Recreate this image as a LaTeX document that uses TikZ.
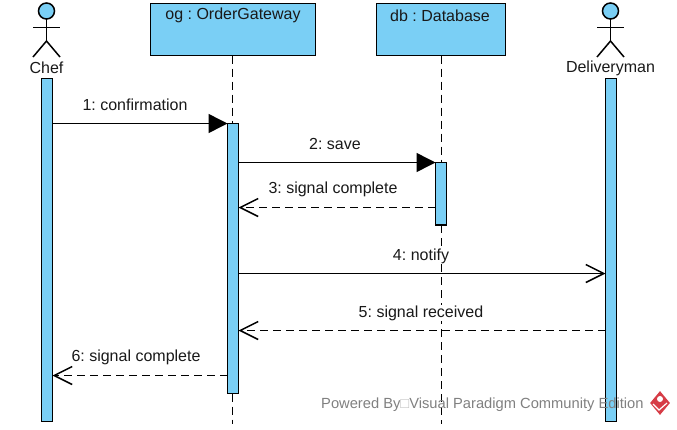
\documentclass[tikz,border=0pt]{standalone}
\usepackage{fontspec}
\setmainfont{Liberation Sans}
\frenchspacing
\usetikzlibrary{arrows.meta,shapes.geometric}
\definecolor{umlblue}{RGB}{122,207,245}
\definecolor{vpgray}{RGB}{128,128,128}
\definecolor{vpred}{RGB}{214,60,70}
\tikzset{
    lbl/.style = {font=\fontsize{16}{18}\selectfont,inner sep=1pt,text=black!90},
    msg/.style = {lbl,fill=white},
    objbox/.style = {draw,fill=umlblue,line width=1.5pt,anchor=north west,inner sep=0pt,outer sep=0pt},
    bar/.style = {draw,fill=umlblue,line width=1.5pt,minimum width=11pt,anchor=north,inner sep=0pt,outer sep=0pt},
    life/.style = {line width=1.5pt,dash pattern=on 8pt off 5pt},
    call/.style = {line width=1.5pt,-{Triangle[length=19pt,width=19pt]}},
    ret/.style = {line width=1.5pt,dash pattern=on 8pt off 5pt,-{Straight Barb[length=18pt,width=18pt,line width=1.5pt]}},
    send/.style = {line width=1.5pt,-{Straight Barb[length=18pt,width=18pt,line width=1.5pt]}},
}
% x and y in pixels of the sheet
\newcommand{\stickman}[2]{
    \draw[fill=umlblue,line width=1.5pt] (#1,11) circle (8pt);
    \draw[line width=1.5pt] (#1,19) -- (#1,41);
    \draw[line width=1.5pt] (#1-13.5,27.5) -- (#1+13.5,27.5);
    \draw[line width=1.5pt] (#1-13.5,57) -- (#1,41) -- (#1+13.5,57);
    \node[lbl] (#2) at (#1,68) {#2};
}
\begin{document}
\begin{tikzpicture}[x=1pt,y=-1pt]
    \useasboundingbox (0,0) rectangle (677,429);

    % actors
    \stickman{46.5}{Chef}
    \stickman{610.5}{Deliveryman}

    % objects
    \node[objbox,minimum width=165pt,minimum height=52pt] (og) at (150.5,3.5) {};
    \node[lbl] (oglabel) at (233,15.5) {og : OrderGateway};
    \node[objbox,minimum width=129pt,minimum height=52pt] (db) at (376.5,3.5) {};
    \node[lbl] (dblabel) at (440,15.5) {db : Database};

    % activation bars
    \node[bar,minimum height=343pt] (chefbar) at (47,78.5) {};
    \node[bar,minimum height=343pt] (delbar) at (611,78.5) {};
    \node[bar,minimum height=270pt] (ogbar) at (233,123.5) {};
    \node[bar,minimum height=62.5pt] (dbbar) at (441,162.5) {};

    % lifelines
    \coordinate (ogtop) at (232.5,55.5);
    \coordinate (ogmid) at (232.5,123.5);
    \coordinate (oglow) at (232.5,393.5);
    \coordinate (ogend) at (232.5,424);
    \coordinate (dbtop) at (441.5,55.5);
    \coordinate (dbmid) at (441.5,162.5);
    \coordinate (dblow) at (441.5,225);
    \coordinate (dbend) at (441.5,424);
    \draw[life] (ogtop) -- (ogmid);
    \draw[life] (oglow) -- (ogend);
    \draw[life] (dbtop) -- (dbmid);
    \draw[life] (dblow) -- (dbend);

    % messages
    \coordinate (m1) at (0,123.5);
    \coordinate (m2) at (0,162.5);
    \coordinate (m3) at (0,207.5);
    \coordinate (m4) at (0,273.5);
    \coordinate (m5) at (0,330.5);
    \coordinate (m6) at (0,375.5);
    \draw[call] (chefbar.east |- m1) -- (ogbar.west |- m1);
    \draw[call] (ogbar.east |- m2) -- (dbbar.west |- m2);
    \draw[ret] (dbbar.west |- m3) -- (ogbar.east |- m3);
    \draw[send] (ogbar.east |- m4) -- (delbar.west |- m4);
    \draw[ret] (delbar.west |- m5) -- (ogbar.east |- m5);
    \draw[ret] (ogbar.west |- m6) -- (chefbar.east |- m6);

    \node[msg] (t1) at (135,105) {1: confirmation};
    \node[msg] (t2) at (335,144) {2: save};
    \node[msg] (t3) at (333,189) {3: signal complete};
    \node[msg] (t4) at (421,256) {4: notify};
    \node[msg] (t5) at (421,313) {5: signal received};
    \node[msg] (t6) at (136,357) {6: signal complete};

    % watermark
    \node[font=\fontsize{14.7}{17}\selectfont,text=vpgray,inner sep=0pt,anchor=west] (mark) at (321,405)
        {Powered By\textcolor{black!25}{□}Visual Paradigm Community Edition};
    \node[diamond,fill=vpred,minimum width=20pt,minimum height=24pt,inner sep=0pt] (logo) at (660,403) {};
    \node[circle,fill=white,minimum size=6pt,inner sep=0pt] (logohole) at (660,399) {};
    \draw[white,line width=1.2pt] (653,404) -- (659,410) -- (667,403);
\end{tikzpicture}
\end{document}
